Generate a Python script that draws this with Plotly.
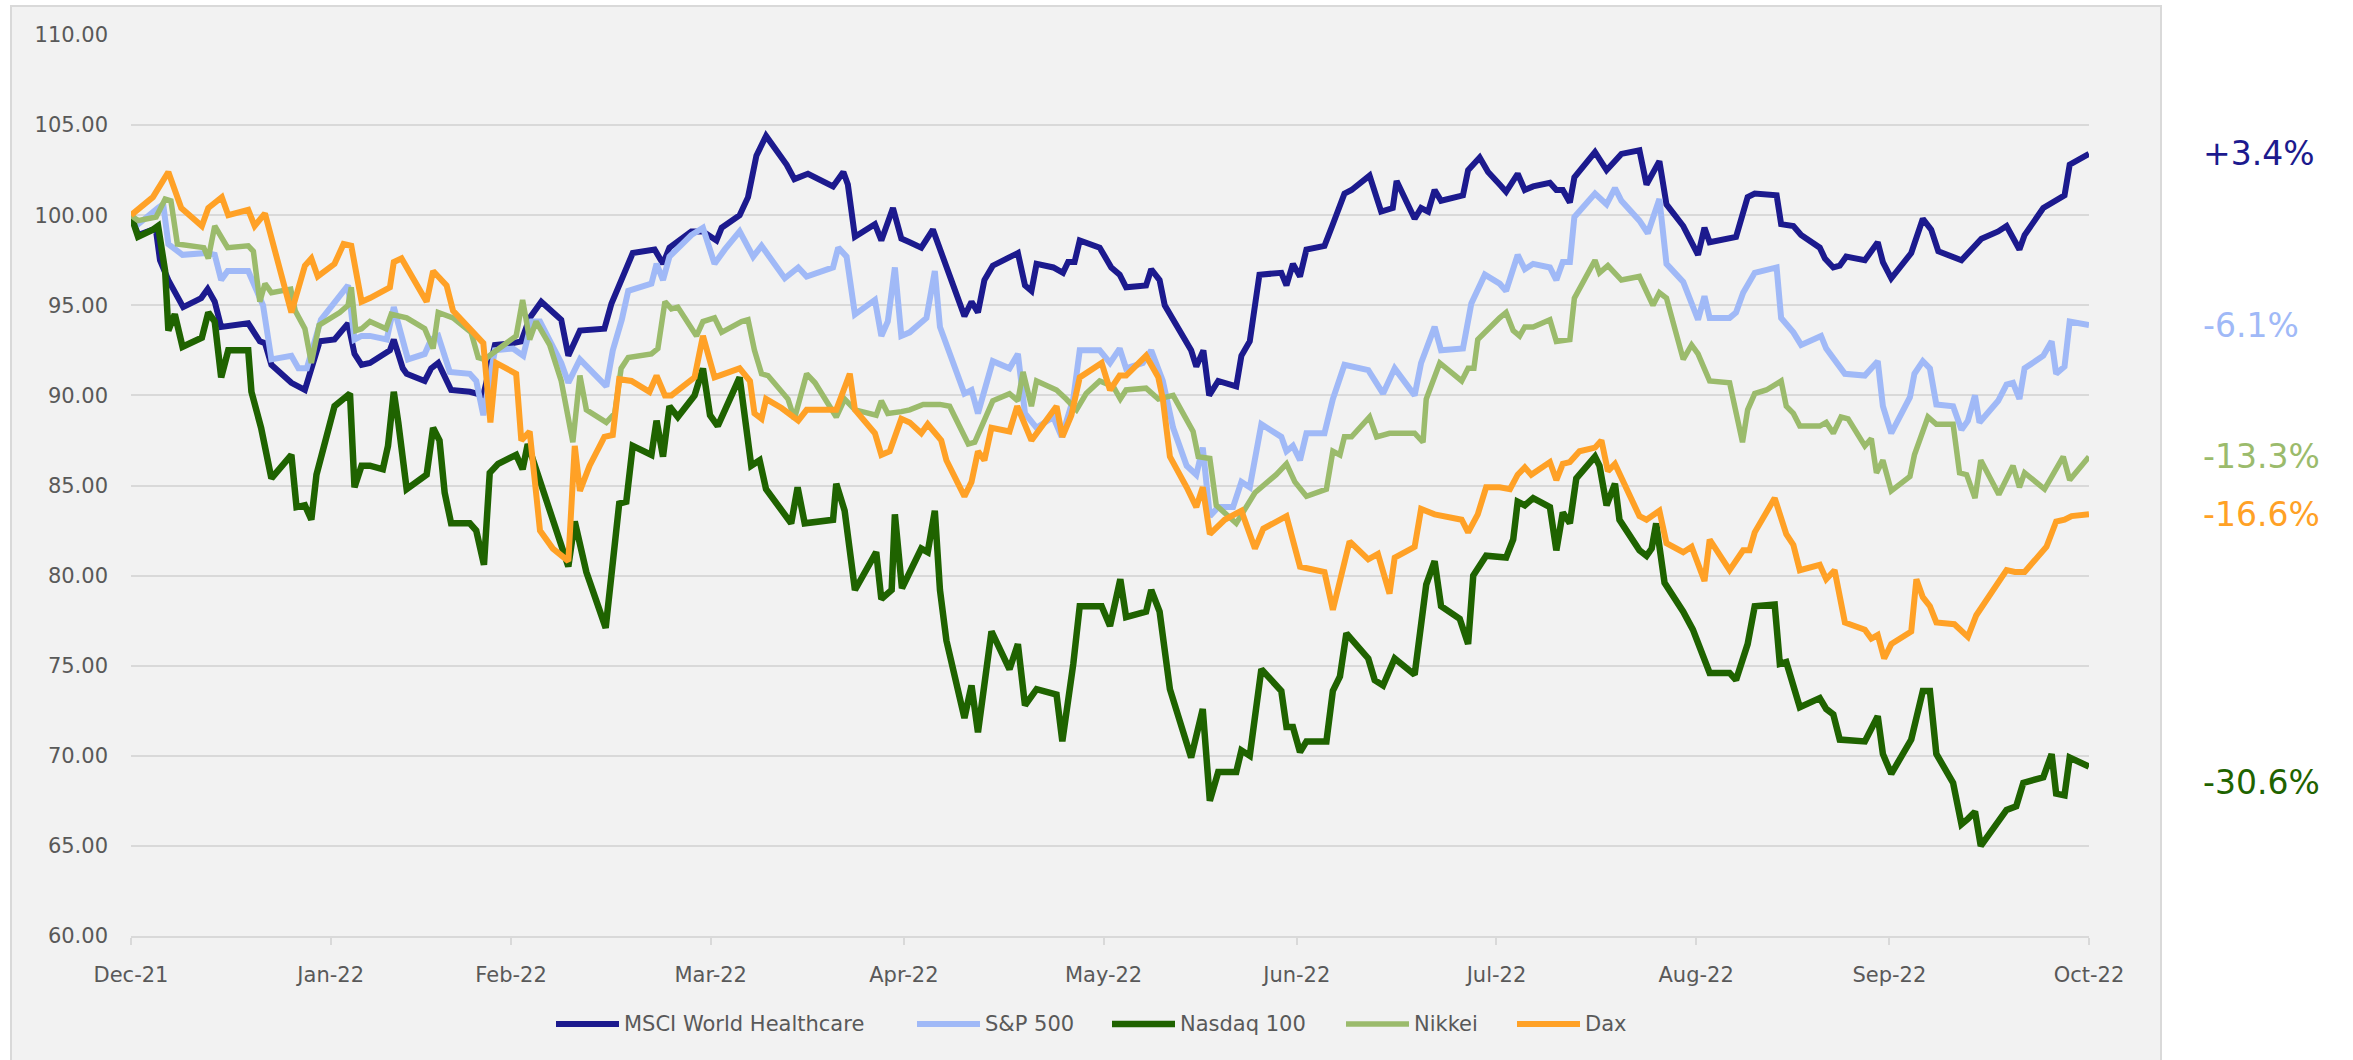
import pandas as pd
import plotly.graph_objects as go

# ---------------- data (days after 31 Dec 2021, indexed value) ----------------
BASE_DATE = "2021-12-31"

msci_world_healthcare = [
    (0, 100), (1.1, 98.9), (3.4, 99.2), (3.9, 99.1), (4.5, 97.5), (5.8, 96.4), (8.1, 94.9), (10.9, 95.4),
    (11.9, 95.9), (13, 95.2), (14, 93.8), (18.2, 94.0), (20, 93.0), (20.8, 92.9), (21.8, 91.7), (24.9, 90.7),
    (27, 90.3), (29.3, 93.0), (31.6, 93.1), (33.7, 94.0), (34.7, 92.3), (35.8, 91.7), (37.1, 91.8), (39.1, 92.2),
    (40.2, 92.5), (40.8, 93.1), (42.2, 91.5), (42.8, 91.2), (45.6, 90.8), (46.6, 91.5), (47.7, 91.8), (49.7, 90.3),
    (52.6, 90.2), (54.7, 90.0), (56.5, 92.8), (59.3, 92.9), (60.6, 93.0), (61.9, 94.3), (63.7, 95.2), (66.8, 94.2),
    (67.9, 92.2), (69.7, 93.6), (73.5, 93.7), (74.6, 95.1), (76.1, 96.4), (77.9, 97.9), (81.3, 98.1), (82.6, 97.3),
    (83.6, 98.2), (87, 99.1), (88.8, 99.1), (90.9, 98.6), (91.7, 99.3), (94.5, 100.0), (95.8, 101.0), (97.1, 103.3),
    (98.6, 104.4), (101.8, 102.8), (103, 102.0), (105.1, 102.3), (109, 101.6), (110.6, 102.4), (111.3, 101.7),
    (112.4, 98.8), (115.5, 99.5), (116.5, 98.6), (118.3, 100.4), (119.6, 98.7), (120.9, 98.5), (122.7, 98.2),
    (124.5, 99.2), (126.1, 97.7), (129.4, 94.4), (130.5, 95.2), (131.5, 94.6), (132.5, 96.4), (133.8, 97.2),
    (137.7, 97.9), (138.8, 96.1), (139.8, 95.8), (140.6, 97.3), (143.2, 97.1), (144.7, 96.8), (145.5, 97.4),
    (146.5, 97.4), (147.3, 98.6), (150.4, 98.2), (152.2, 97.1), (153.5, 96.7), (154.5, 96.0), (157.6, 96.1),
    (158.4, 97.0), (159.7, 96.4), (160.5, 95.0), (162.8, 93.6), (164.6, 92.5), (165.4, 91.6), (166.5, 92.5),
    (167.4, 90.0), (168.8, 90.8), (171.6, 90.5), (172.4, 92.2), (173.7, 93.0), (175.2, 96.7), (178.6, 96.8),
    (179.4, 96.1), (180.4, 97.3), (181.5, 96.6), (182.5, 98.1), (185.3, 98.3), (186.6, 99.5), (188.4, 101.2),
    (189.5, 101.4), (192.3, 102.2), (194.1, 100.2), (195.9, 100.4), (196.5, 101.9), (199.3, 99.8), (200.3, 100.4),
    (201.4, 100.2), (202.4, 101.4), (203.4, 100.8), (206.8, 101.1), (207.6, 102.5), (209.4, 103.2), (210.7, 102.4),
    (212.5, 101.7), (213.5, 101.3), (215.3, 102.3), (216.4, 101.4), (217.7, 101.6), (220.3, 101.8), (221.3, 101.4),
    (222.3, 101.4), (223.4, 100.7), (224.1, 102.1), (227.3, 103.5), (229.1, 102.5), (231.4, 103.4), (234.2, 103.6),
    (235.3, 101.7), (236.3, 102.3), (237.3, 103.0), (238.4, 100.6), (241, 99.4), (243.3, 97.8), (244.3, 99.3),
    (245.1, 98.5), (249.2, 98.8), (251, 101.0), (252.1, 101.2), (255.5, 101.1), (256.2, 99.5), (258.1, 99.4),
    (259.3, 98.9), (262.2, 98.2), (263, 97.6), (264.3, 97.1), (265.3, 97.2), (266.3, 97.7), (269.2, 97.5),
    (271.2, 98.5), (272, 97.4), (273.3, 96.5), (276.4, 97.9), (278.2, 99.8), (279.5, 99.2), (280.6, 98.0),
    (282.9, 97.7), (284.2, 97.5), (287.3, 98.7), (289.9, 99.1), (291.2, 99.4), (293.2, 98.1), (294, 98.9),
    (296.9, 100.4), (300.2, 101.1), (301, 102.8), (304, 103.4),
]

sp500 = [
    (0, 100), (1.1, 99.5), (4.2, 100.4), (5, 100.6), (5.8, 98.4), (8, 97.8), (11.7, 97.9), (13, 97.8), (14, 96.4),
    (15, 96.9), (18.2, 96.9), (20.5, 95.0), (21.8, 92.0), (24.9, 92.2), (26, 91.5), (27.3, 91.5), (29.5, 94.2),
    (33.7, 96.1), (34.7, 93.1), (35.8, 93.3), (37.1, 93.3), (39.7, 93.1), (40.8, 94.9), (43, 92.0), (45.6, 92.3),
    (46.6, 93.1), (47.7, 93.3), (49.5, 91.3), (52.6, 91.2), (53.6, 90.8), (54.7, 88.9), (55.7, 91.2), (56.5, 92.5),
    (59.3, 92.6), (60.9, 92.2), (62.2, 94.1), (63.5, 94.1), (66.8, 91.8), (67.9, 90.7), (69.7, 92.0), (73.8, 90.5),
    (74.8, 92.5), (76.2, 94.2), (77.2, 95.8), (80.8, 96.2), (81.6, 97.3), (82.6, 96.4), (83.6, 97.7), (87, 98.9),
    (88.8, 99.3), (90.6, 97.3), (92.2, 98.1), (94.5, 99.1), (96.6, 97.7), (97.9, 98.3), (101.5, 96.5), (103.6, 97.1),
    (104.9, 96.6), (109, 97.1), (109.8, 98.2), (111.1, 97.7), (112.4, 94.5), (115.5, 95.3), (116.5, 93.3),
    (117.5, 94.1), (118.6, 97.1), (119.6, 93.3), (120.9, 93.5), (123.5, 94.3), (124.8, 96.9), (125.6, 93.8),
    (129.4, 90.1), (130.5, 90.3), (131.5, 89.0), (133.8, 91.9), (136.4, 91.5), (137.7, 92.3), (138.8, 89.0),
    (140.6, 88.2), (143.2, 88.8), (144.5, 87.7), (146.3, 89.8), (147.3, 92.5), (150.4, 92.5), (152, 91.8),
    (153.5, 92.6), (154.5, 91.5), (157.1, 91.8), (158.4, 92.5), (160.2, 90.8), (161.8, 88.2), (163.9, 86.1),
    (165.4, 85.6), (166.4, 87.1), (167.5, 83.3), (168.8, 83.8), (171.1, 83.8), (172.4, 85.2), (173.7, 84.9),
    (175.5, 88.4), (178.6, 87.7), (179.4, 86.9), (180.4, 87.2), (181.5, 86.4), (182.5, 87.9), (185.3, 87.9),
    (186.6, 89.8), (188.4, 91.7), (192.1, 91.4), (194.4, 90.1), (196.2, 91.5), (199.3, 90.0), (200.3, 91.8),
    (202.4, 93.8), (203.4, 92.5), (206.8, 92.6), (208.1, 95.1), (210.2, 96.7), (212.5, 96.2), (213.5, 95.8),
    (215.3, 97.8), (216.4, 97.0), (217.7, 97.3), (220.3, 97.1), (221.3, 96.4), (222.3, 97.4), (223.4, 97.4),
    (224.1, 99.9), (227.3, 101.2), (229.1, 100.6), (230.4, 101.5), (231.4, 100.8), (234.2, 99.7), (235.5, 99.0),
    (237.3, 100.9), (238.4, 97.3), (241, 96.3), (243.3, 94.2), (244.3, 95.5), (245.1, 94.3), (248.2, 94.3),
    (249.2, 94.6), (250.3, 95.7), (252.1, 96.8), (255.5, 97.1), (256.2, 94.3), (258.1, 93.5), (259.3, 92.8),
    (262.4, 93.3), (263.2, 92.6), (266.1, 91.2), (269.2, 91.1), (271.2, 91.9), (272, 89.4), (273.3, 87.9),
    (276.2, 89.9), (276.9, 91.2), (278.2, 91.9), (279.3, 91.5), (280.3, 89.5), (282.9, 89.4), (284.2, 88.1),
    (285.2, 88.6), (286.3, 90.0), (287, 88.5), (289.9, 89.7), (291.2, 90.6), (292.2, 90.7), (293.2, 89.8),
    (294, 91.5), (296.9, 92.2), (298.2, 93.0), (298.9, 91.2), (300.2, 91.6), (301, 94.1), (304, 93.9),
]

nasdaq100 = [
    (0, 100), (1.1, 98.8), (3.4, 99.2), (4.2, 99.4), (5.3, 96.9), (5.8, 93.6), (6.8, 94.5), (8, 92.7), (11, 93.2),
    (12, 94.6), (13, 94.1), (14, 91.0), (15.1, 92.5), (18.2, 92.5), (18.7, 90.2), (20.2, 88.2), (21.8, 85.4),
    (24.9, 86.7), (25.7, 83.8), (27, 83.9), (28, 83.1), (28.8, 85.6), (31.6, 89.4), (33.2, 89.9), (34, 90.1),
    (34.7, 84.9), (35.8, 86.1), (37.1, 86.1), (39.1, 85.9), (39.9, 87.2), (40.8, 90.2), (41.5, 88.5), (42.8, 84.8),
    (45.9, 85.6), (46.9, 88.2), (47.9, 87.5), (48.7, 84.6), (49.7, 82.9), (52.6, 82.9), (53.6, 82.5), (54.8, 80.6),
    (55.7, 85.7), (57, 86.2), (59.8, 86.7), (60.8, 85.9), (61.6, 87.3), (63.5, 85.2), (65.3, 83.3), (67.9, 80.5),
    (68.9, 83.0), (70.7, 80.2), (73.7, 77.1), (75.8, 84.0), (76.9, 84.1), (77.9, 87.2), (80.8, 86.7), (81.6, 88.6),
    (82.6, 86.6), (83.6, 89.4), (84.9, 88.8), (87.5, 90.0), (88.8, 91.5), (89.9, 88.9), (91.1, 88.3), (94.5, 91.0),
    (96.3, 86.1), (97.6, 86.4), (98.6, 84.8), (101, 83.6), (102.5, 82.9), (103.5, 84.9), (104.6, 82.9), (109, 83.1),
    (109.5, 85.1), (110.8, 83.6), (112.4, 79.2), (115.7, 81.3), (116.5, 78.7), (118.1, 79.2), (118.6, 83.4),
    (119.7, 79.3), (122.7, 81.5), (123.7, 81.3), (124.8, 83.6), (125.6, 79.2), (126.6, 76.4), (129.4, 72.1),
    (130.5, 73.9), (131.5, 71.3), (133.6, 76.9), (136.4, 74.8), (137.7, 76.2), (138.8, 72.8), (140.6, 73.7),
    (143.7, 73.4), (144.6, 70.8), (146.3, 75.1), (147.3, 78.3), (150.7, 78.3), (152, 77.2), (153.6, 79.8),
    (154.5, 77.7), (157.6, 78.0), (158.4, 79.2), (159.7, 78.0), (161.3, 73.7), (164.6, 69.9), (166.4, 72.6),
    (167.5, 67.5), (168.8, 69.1), (171.6, 69.1), (172.4, 70.3), (173.7, 70.0), (175.5, 74.8), (178.6, 73.6),
    (179.4, 71.6), (180.4, 71.6), (181.5, 70.2), (182.5, 70.8), (185.6, 70.8), (186.6, 73.6), (187.7, 74.4),
    (188.7, 76.8), (192.1, 75.4), (193.1, 74.2), (194.4, 73.9), (196.2, 75.4), (199.3, 74.5), (201.1, 79.5),
    (202.4, 80.8), (203.4, 78.3), (206.3, 77.6), (207.6, 76.2), (208.4, 80.0), (210.4, 81.1), (213.5, 81.0),
    (214.6, 82.0), (215.3, 84.1), (216.4, 83.9), (217.7, 84.3), (220.3, 83.8), (221.3, 81.4), (222.3, 83.5),
    (223.4, 82.9), (224.4, 85.4), (227.3, 86.6), (228, 86.1), (229.1, 83.9), (230.4, 85.1), (231.1, 83.1),
    (234.2, 81.4), (235.3, 81.1), (236.1, 81.5), (236.8, 82.9), (238.1, 79.6), (241, 78.0), (242.5, 77.0),
    (245.1, 74.6), (248.2, 74.6), (249.2, 74.2), (251, 76.2), (252.1, 78.3), (255.2, 78.4), (256, 75.1),
    (257, 75.2), (258.1, 73.9), (259.1, 72.7), (262.2, 73.2), (263.2, 72.6), (264.3, 72.3), (265.3, 70.9),
    (269.2, 70.8), (271.2, 72.2), (272, 70.1), (273.3, 69.0), (276.4, 70.9), (278.2, 73.6), (279.3, 73.6),
    (280.3, 70.1), (282.9, 68.5), (284.2, 66.2), (285.2, 66.5), (286.3, 66.9), (287.2, 65.0), (289.9, 66.3),
    (291.2, 67.0), (292.7, 67.2), (293.8, 68.5), (296.9, 68.8), (298.2, 70.1), (298.9, 67.9), (300.2, 67.8),
    (301, 69.9), (304, 69.4),
]

nikkei = [
    (0, 100), (1.1, 99.7), (3.9, 99.9), (5.3, 100.9), (6.2, 100.8), (7.2, 98.4), (11.3, 98.2), (12, 97.6),
    (13, 99.4), (15, 98.2), (18.2, 98.3), (19, 98.0), (20, 95.2), (20.8, 96.2), (21.8, 95.7), (24.8, 95.9),
    (25.5, 94.7), (27, 93.7), (28, 91.8), (29.2, 93.9), (32.4, 94.6), (33.7, 95.0), (34.2, 96.0), (34.9, 93.6),
    (35.8, 93.7), (37.1, 94.1), (39.6, 93.7), (40.4, 94.5), (42.8, 94.3), (45.6, 93.7), (46.9, 92.6), (47.7, 94.6),
    (50, 94.3), (52.8, 93.5), (53.9, 92.1), (54.9, 92.0), (56, 92.3), (59.8, 93.3), (60.8, 95.3), (61.9, 93.1),
    (62.9, 94.1), (65, 92.8), (66.8, 90.8), (68.6, 87.4), (69.7, 91.1), (70.7, 89.2), (73.8, 88.5), (75.1, 89.0),
    (76.1, 91.5), (77.2, 92.1), (80.8, 92.3), (81.8, 92.6), (82.9, 95.2), (83.9, 94.8), (84.9, 94.9), (87.8, 93.3),
    (88.8, 94.1), (90.6, 94.3), (91.7, 93.5), (94.8, 94.1), (95.8, 94.2), (96.8, 92.5), (97.9, 91.2), (98.9, 91.1),
    (102, 89.8), (103, 88.7), (104.9, 91.2), (106.2, 90.7), (109.5, 88.8), (110.8, 89.8), (112.4, 89.2),
    (115.7, 88.9), (116.5, 89.7), (117.5, 89.0), (119.6, 89.1), (120.9, 89.2), (123, 89.5), (125.6, 89.5),
    (127.1, 89.4), (130, 87.3), (131, 87.4), (132, 88.2), (133.8, 89.7), (136.4, 90.1), (137.7, 89.7), (138.5, 91.3),
    (139.8, 89.4), (140.6, 90.8), (143.7, 90.3), (145.2, 89.8), (146.8, 89.2), (148.3, 90.1), (150.4, 90.8),
    (152.5, 90.5), (153.6, 89.8), (154.5, 90.3), (157.6, 90.4), (159.5, 89.8), (161.8, 90.0), (164.9, 88.0),
    (165.7, 86.6), (167.5, 86.5), (168.5, 83.9), (171.6, 82.9), (174.5, 84.6), (177.8, 85.6), (179.4, 86.2),
    (180.7, 85.2), (182.5, 84.4), (185.6, 84.8), (186.6, 86.9), (187.7, 86.7), (188.4, 87.7), (189.5, 87.7),
    (192.3, 88.8), (193.4, 87.7), (195.4, 87.9), (199.3, 87.9), (200.6, 87.4), (201.1, 89.8), (203.2, 91.8),
    (206.6, 90.8), (207.6, 91.5), (208.5, 91.5), (209.1, 93.1), (212.5, 94.3), (213.5, 94.6), (214.6, 93.6),
    (215.6, 93.3), (216.4, 93.8), (217.7, 93.8), (220.3, 94.2), (221.3, 93.0), (223.4, 93.1), (224.1, 95.4),
    (227.3, 97.5), (228, 96.8), (229.3, 97.2), (231.4, 96.4), (234.2, 96.6), (236.3, 95.0), (237.3, 95.7),
    (238.4, 95.4), (241, 92.0), (242.3, 92.8), (243.3, 92.3), (245.1, 90.8), (248.2, 90.7), (249.2, 89.2),
    (250.2, 87.4), (251, 89.2), (252.1, 90.1), (253.9, 90.3), (256.2, 90.8), (257, 89.4), (258.1, 89.0),
    (259.1, 88.3), (262.2, 88.3), (263.2, 88.5), (264.3, 87.9), (265.5, 88.8), (266.6, 88.7), (269.2, 87.2),
    (270.2, 87.6), (271, 85.7), (272, 86.4), (273.3, 84.7), (276.2, 85.5), (276.9, 86.7), (279, 88.8),
    (280.3, 88.4), (282.9, 88.4), (283.9, 85.7), (285, 85.6), (286.3, 84.3), (287.2, 86.4), (290, 84.5),
    (292.2, 86.1), (293.2, 84.9), (294, 85.7), (297.1, 84.8), (300, 86.6), (301, 85.3), (304, 86.6),
]

dax = [
    (0, 100), (3.4, 101.0), (5.8, 102.4), (7.8, 100.4), (11, 99.4), (12, 100.4), (14.1, 101.0), (15.1, 100.0),
    (18.2, 100.3), (19.2, 99.4), (20.8, 100.1), (22.3, 98.1), (24.9, 94.6), (27, 97.2), (28, 97.6), (29, 96.6),
    (31.6, 97.3), (33, 98.4), (34.2, 98.3), (35.8, 95.2), (37.1, 95.4), (40.2, 96.0), (40.8, 97.4), (42, 97.6),
    (45.9, 95.2), (46.9, 96.9), (49, 96.1), (50, 94.7), (52.6, 93.7), (54.7, 92.9), (55.8, 88.5), (56.7, 91.8),
    (59.8, 91.2), (60.6, 87.5), (61.9, 88.0), (63.5, 82.5), (65.5, 81.5), (67.9, 80.8), (68.9, 87.2), (69.7, 84.7),
    (71.2, 86.1), (73.5, 87.7), (74.8, 87.8), (75.8, 90.9), (77.7, 90.8), (80.5, 90.2), (81.6, 91.1), (82.9, 90.0),
    (83.9, 90.0), (87.5, 91.0), (88.8, 93.3), (90.6, 91.0), (94.5, 91.5), (96.1, 90.8), (96.8, 89.0), (97.9, 88.7),
    (98.6, 89.8), (101, 89.3), (103.6, 88.6), (104.9, 89.2), (109.5, 89.2), (111.6, 91.2), (112.4, 89.2),
    (115.5, 87.9), (116.5, 86.7), (117.8, 86.9), (119.6, 88.7), (120.9, 88.5), (122.7, 87.9), (123.7, 88.4),
    (125.8, 87.5), (126.6, 86.4), (129.4, 84.4), (130.5, 85.2), (131.5, 86.9), (132.5, 86.4), (133.6, 88.2),
    (136.4, 88.0), (137.6, 89.4), (139.8, 87.5), (143.7, 89.4), (144.6, 87.7), (146, 88.9), (147.3, 91.0),
    (150.7, 91.8), (152, 90.3), (153.5, 91.1), (154.5, 91.1), (157.6, 92.2), (159.5, 91.0), (160.2, 89.8),
    (161.3, 86.6), (163.9, 84.9), (165.4, 83.8), (166.4, 84.9), (167.5, 82.3), (169.8, 83.1), (172.4, 83.6),
    (174.5, 81.5), (175.8, 82.6), (179.4, 83.3), (181.5, 80.5), (185.3, 80.2), (186.6, 78.1), (189.2, 81.9),
    (192.1, 80.9), (193.6, 81.2), (195.4, 79.0), (196.2, 81.0), (199.3, 81.6), (200.3, 83.7), (202.4, 83.4),
    (206.6, 83.1), (207.6, 82.4), (209.1, 83.4), (210.4, 84.9), (212.5, 84.9), (214.1, 84.8), (215.3, 85.6),
    (216.4, 86.0), (217.4, 85.6), (220.3, 86.3), (221.3, 85.3), (222.3, 86.2), (223.4, 86.3), (224.9, 86.9),
    (227.3, 87.1), (228.3, 87.5), (229.3, 85.8), (230.4, 86.2), (234.2, 83.3), (235.3, 83.1), (237.3, 83.6),
    (238.4, 81.8), (241, 81.3), (242.3, 81.6), (244.3, 79.7), (245.1, 82.0), (248.2, 80.3), (249.2, 80.9),
    (250.3, 81.4), (251.3, 81.4), (252.1, 82.4), (255.2, 84.3), (256, 83.3), (257, 82.3), (258.1, 81.7),
    (259.1, 80.3), (262.2, 80.6), (263.2, 79.8), (264.5, 80.3), (266.1, 77.4), (269.2, 77.0), (270.2, 76.5),
    (271.2, 76.7), (272.2, 75.4), (273.3, 76.2), (276.4, 76.9), (277.2, 79.8), (278.2, 78.8), (279.3, 78.3),
    (280.3, 77.4), (283.1, 77.3), (285.2, 76.6), (286.5, 77.8), (289.9, 79.6), (291.2, 80.3), (292.5, 80.2),
    (294, 80.2), (297.4, 81.6), (298.9, 83.0), (300.2, 83.1), (301.3, 83.3), (304, 83.4),
]

series_names = ["MSCI World Healthcare", "S&P 500", "Nasdaq 100", "Nikkei", "Dax"]
series_data = [msci_world_healthcare, sp500, nasdaq100, nikkei, dax]
series_colors = ["#1c1a8e", "#a0b9f7", "#1f6300", "#9bbb6c", "#ffa126"]
series_widths = [6, 6, 6.5, 5.5, 6]

end_labels = ["+3.4%", "-6.1%", "-30.6%", "-13.3%", "-16.6%"]
end_label_shift = [0, 0, -16, 0, 0]

month_ends = ["2021-12-31", "2022-01-31", "2022-02-28", "2022-03-31", "2022-04-30", "2022-05-31",
              "2022-06-30", "2022-07-31", "2022-08-31", "2022-09-30", "2022-10-31"]

# ---------------- figure ----------------
base = pd.Timestamp(BASE_DATE)
GRID = "#d9d9d9"
TXT = "#595959"
FONT = "DejaVu Sans"

W, H = 2353, 1060
L, R, T, B = 131, 264, 35, 124
pw, ph = W - L - R, H - T - B


def px_x(p):
    return (p - L) / pw


def px_y(p):
    return (H - B - p) / ph


fig = go.Figure()
for name, data, color, w in zip(series_names, series_data, series_colors, series_widths):
    xs = [base + pd.Timedelta(days=d) for d, _ in data]
    ys = [v for _, v in data]
    fig.add_trace(go.Scatter(x=xs, y=ys, mode="lines", name=name,
                             line=dict(color=color, width=w, shape="linear"),
                             hoverinfo="skip", showlegend=False))

annotations = []
for data, color, label, shift in zip(series_data, series_colors, end_labels, end_label_shift):
    annotations.append(dict(x=1, xref="paper", y=data[-1][1], yref="y", text=label,
                            showarrow=False, xanchor="left", yanchor="middle",
                            xshift=112, yshift=shift,
                            font=dict(family=FONT, size=33, color=color)))

# background panel
shapes = [dict(type="rect", xref="paper", yref="paper",
               x0=px_x(11), x1=px_x(2161), y0=px_y(1075), y1=px_y(6),
               fillcolor="#f2f2f2", line=dict(color=GRID, width=2), layer="below")]

# legend drawn as line samples + labels (Excel-style long samples)
legend_sample_start = [556, 917, 1112, 1346, 1517]
LEG_Y = 1024
SAMPLE_LEN = 63
for name, color, w, x0 in zip(series_names, series_colors, series_widths, legend_sample_start):
    shapes.append(dict(type="line", xref="paper", yref="paper",
                       x0=px_x(x0), x1=px_x(x0 + SAMPLE_LEN), y0=px_y(LEG_Y), y1=px_y(LEG_Y),
                       line=dict(color=color, width=w)))
    annotations.append(dict(x=px_x(x0 + SAMPLE_LEN + 3), xref="paper", y=px_y(LEG_Y), yref="paper",
                            text=name, showarrow=False, xanchor="left", yanchor="middle",
                            font=dict(family=FONT, size=21, color=TXT)))

fig.update_layout(
    width=W, height=H,
    margin=dict(l=L, r=R, t=T, b=B, pad=0),
    paper_bgcolor="white",
    plot_bgcolor="rgba(0,0,0,0)",
    font=dict(family=FONT, size=21, color=TXT),
    shapes=shapes,
    annotations=annotations,
    showlegend=False,
    xaxis=dict(type="date", range=[month_ends[0], month_ends[-1]],
               tickmode="array", tickvals=month_ends, tickformat="%b-%y",
               showgrid=False, zeroline=False, showline=True, linecolor=GRID, linewidth=2,
               ticks="outside", ticklen=7, tickwidth=2, tickcolor=GRID,
               tickfont=dict(family=FONT, size=21, color=TXT), ticklabelstandoff=12),
    yaxis=dict(range=[60, 110], tick0=60, dtick=5, tickformat=".2f",
               showgrid=True, gridcolor=GRID, gridwidth=2, zeroline=False, showline=False,
               ticks="", tickfont=dict(family=FONT, size=21, color=TXT), ticklabelstandoff=22),
)

fig.write_html("out.html", config={"displayModeBar": False},
               post_script="document.body.style.margin='0';document.body.style.overflow='hidden';")
